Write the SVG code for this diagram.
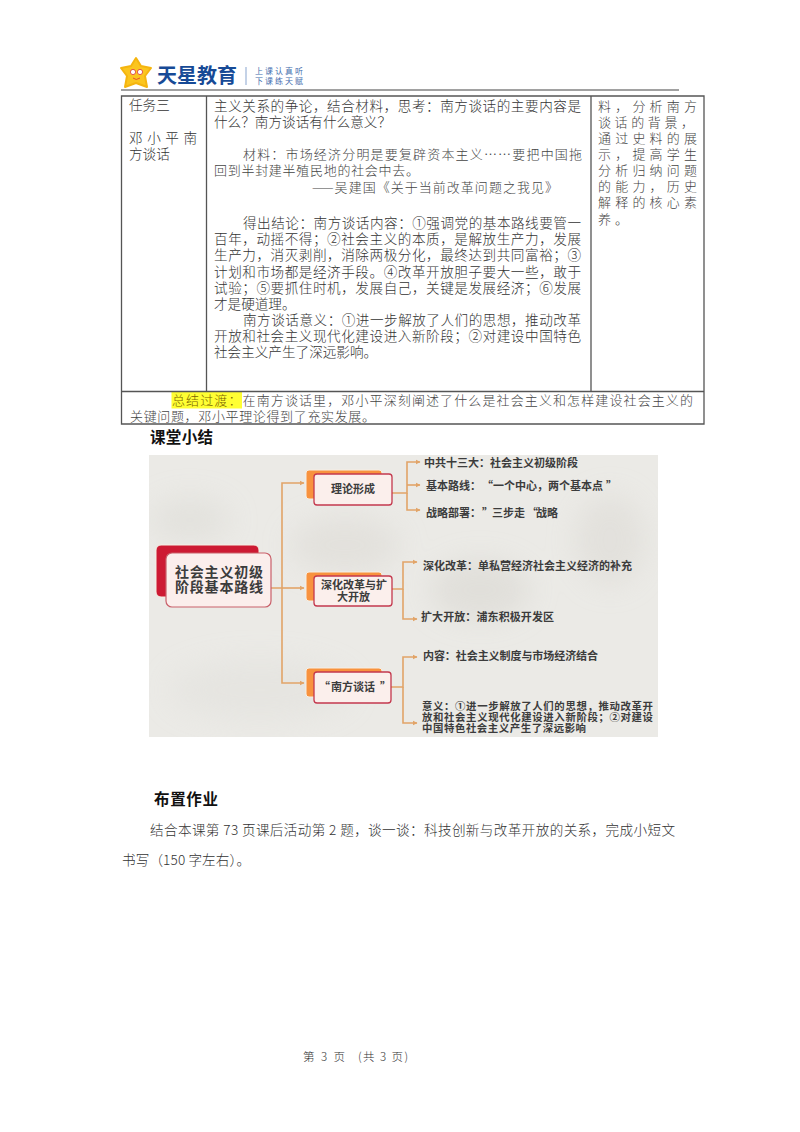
<svg xmlns="http://www.w3.org/2000/svg" width="800" height="1132" viewBox="0 0 800 1132">
<style>
text{font-family:"Noto Sans CJK SC","Noto Sans",sans-serif}
.b{font-size:13.6px;fill:#333;font-weight:300}
.k{font-size:13px;fill:#444;font-weight:300}
.h{font-size:15.5px;fill:#111;font-weight:700}
.m{font-size:11px;fill:#3c3c3c;font-weight:700}
.n{font-size:10.4px;fill:#3c3c3c;font-weight:700}
.t{stroke:#555;stroke-width:1.3;fill:none}
.c{stroke:#e2a468;stroke-width:1.6;fill:none}
.o{fill:#f8923e;stroke:#f6efe4;stroke-width:1}
.f{fill:#fbefec;stroke:#c4384d;stroke-width:1.3}
</style>
<defs>
<marker id="a" markerUnits="userSpaceOnUse" markerWidth="5" markerHeight="6" refX="4.500" refY="3" orient="auto"><path d="M0 0.5L5 3L0 5.500z" fill="#e2a468"/></marker>
<filter id="bl" x="-50%" y="-50%" width="200%" height="200%"><feGaussianBlur stdDeviation="14"/></filter>
<clipPath id="pic"><rect x="149" y="455" width="509" height="282"/></clipPath>
</defs>
<rect width="800" height="1132" fill="#fff"/>
<g id="logo">
<path d="M136 58L141 66L151 68L145 76L147 87L136 83L125 87L127 76L121 68L131 66z" fill="#fbc51e" stroke="#f5b50f" stroke-linejoin="round" stroke-width="2"/>
<circle cx="133" cy="72" r="2.600" fill="#fff" stroke="#d33" stroke-width="0.800"/><circle cx="140" cy="72" r="2.600" fill="#fff" stroke="#d33" stroke-width="0.800"/>
<path d="M133 78Q136 81 140 78" fill="none" stroke="#d33" stroke-width="0.800"/>
<text x="157" y="83" font-size="20" font-weight="700" fill="#174a96" textLength="80" lengthAdjust="spacingAndGlyphs">天星教育</text>
<rect x="245.500" y="67" width="1" height="18" fill="#8aa6cf"/>
<text x="255" y="74" font-size="8" fill="#3f6cae" textLength="48">上课认真听</text>
<text x="255" y="84" font-size="8" fill="#3f6cae" textLength="48">下课练天赋</text>
<path d="M121 90H679" stroke="#444" stroke-width="1.200"/>
</g>
<g id="table">
<rect x="171.500" y="392" width="70.500" height="16.500" fill="#ffff33"/>
<path class="t" d="M121.500 96H704V424H121.500zM206.500 96V391M591 96V391M121.500 391.500H704"/>
<text class="b" x="129" y="110">任务三</text>
<text class="b" x="129" y="143" textLength="68">邓小平南</text>
<text class="b" x="129" y="159">方谈话</text>
<text class="b" x="214" y="111" textLength="367">主义关系的争论，结合材料，思考：南方谈话的主要内容是</text>
<text class="b" x="214" y="127" textLength="177">什么？南方谈话有什么意义？</text>
<text class="k" x="243" y="159" textLength="339">材料：市场经济分明是要复辟资本主义……要把中国拖</text>
<text class="k" x="214" y="175" textLength="205">回到半封建半殖民地的社会中去。</text>
<text class="k" x="312" y="192" textLength="246">——吴建国《关于当前改革问题之我见》</text>
<text class="b" x="243" y="228" textLength="338">得出结论：南方谈话内容：①强调党的基本路线要管一</text>
<text class="b" x="214" y="244" textLength="367">百年，动摇不得；②社会主义的本质，是解放生产力，发展</text>
<text class="b" x="214" y="260" textLength="367">生产力，消灭剥削，消除两极分化，最终达到共同富裕；③</text>
<text class="b" x="214" y="277" textLength="367">计划和市场都是经济手段。④改革开放胆子要大一些，敢于</text>
<text class="b" x="214" y="293" textLength="367">试验；⑤要抓住时机，发展自己，关键是发展经济；⑥发展</text>
<text class="b" x="214" y="309">才是硬道理。</text>
<text class="b" x="243" y="325" textLength="338">南方谈话意义：①进一步解放了人们的思想，推动改革</text>
<text class="b" x="214" y="341" textLength="367">开放和社会主义现代化建设进入新阶段；②对建设中国特色</text>
<text class="b" x="214" y="357">社会主义产生了深远影响。</text>
<text class="k" x="598" y="111" textLength="99">料，分析南方</text>
<text class="k" x="598" y="127" textLength="96">谈话的背景，</text>
<text class="k" x="598" y="143" textLength="99">通过史料的展</text>
<text class="k" x="598" y="159" textLength="99">示，提高学生</text>
<text class="k" x="598" y="175" textLength="99">分析归纳问题</text>
<text class="k" x="598" y="191" textLength="99">的能力，历史</text>
<text class="k" x="598" y="207" textLength="99">解释的核心素</text>
<text class="k" x="598" y="224" textLength="30">养。</text>
<text class="k" x="172" y="405" textLength="521"><tspan fill="#7a6400">总结过渡：</tspan>在南方谈话里，邓小平深刻阐述了什么是社会主义和怎样建设社会主义的</text>
<text class="k" x="130" y="421" textLength="245">关键问题，邓小平理论得到了充实发展。</text>
</g>
<text class="h" x="150" y="443" textLength="63">课堂小结</text>
<g id="picture-bg" clip-path="url(#pic)">
<rect x="149" y="455" width="509" height="282" fill="#ebeae6"/>
<g filter="url(#bl)" opacity=".75">
<ellipse cx="190" cy="520" rx="40" ry="22" fill="#e0dfda"/>
<ellipse cx="345" cy="545" rx="55" ry="28" fill="#e0ded9"/>
<ellipse cx="480" cy="590" rx="50" ry="30" fill="#dddbd6"/>
<ellipse cx="610" cy="540" rx="35" ry="45" fill="#e0ded9"/>
<ellipse cx="260" cy="690" rx="90" ry="30" fill="#e4e3df"/>
</g>
</g>
<g id="connectors">
<path class="c" marker-end="url(#a)" d="M271 588H282V483H304"/>
<path class="c" marker-end="url(#a)" d="M282 588H304"/>
<path class="c" marker-end="url(#a)" d="M282 588V683H304"/>
<path class="c" marker-end="url(#a)" d="M392 493H407V462H420"/>
<path class="c" marker-end="url(#a)" d="M407 485H420"/>
<path class="c" marker-end="url(#a)" d="M407 493V510H420"/>
<path class="c" marker-end="url(#a)" d="M392 589H403V562H417"/>
<path class="c" marker-end="url(#a)" d="M403 589V619H417"/>
<path class="c" marker-end="url(#a)" d="M391 687H403V657H417"/>
<path class="c" marker-end="url(#a)" d="M403 687V723H417"/>
</g>
<g id="root">
<rect x="156" y="545" width="103" height="52" rx="5" fill="#cd1a33" stroke="#f6efe4"/>
<rect x="166" y="553" width="105" height="54" rx="6" fill="#fbeeec" stroke="#c9606a" stroke-width="1.200"/>
<text x="175" y="577" font-size="14" font-weight="700" fill="#3c3c3c" textLength="88">社会主义初级</text>
<text x="175" y="592" font-size="14" font-weight="700" fill="#3c3c3c" textLength="88">阶段基本路线</text>
</g>
<g id="n1">
<rect class="o" x="306" y="470" width="76" height="29" rx="3"/><rect class="f" x="314" y="474" width="78" height="31" rx="3"/>
<text class="m" x="331" y="493" textLength="44">理论形成</text>
</g>
<g id="n2">
<rect class="o" x="306" y="572" width="76" height="29" rx="3"/><rect class="f" x="314" y="576" width="78" height="30" rx="3"/>
<text class="m" x="321" y="589" textLength="66">深化改革与扩</text>
<text class="m" x="337" y="600.500" textLength="33">大开放</text>
</g>
<g id="n3">
<rect class="o" x="306" y="668" width="76" height="29" rx="3"/><rect class="f" x="314" y="672" width="77" height="31" rx="3"/>
<text class="m" y="691"><tspan x="319">“</tspan><tspan x="331">南方谈话</tspan><tspan x="380">”</tspan></text>
</g>
<g id="leaves">
<text class="m" x="424" y="467" textLength="154">中共十三大：社会主义初级阶段</text>
<text class="m" y="490"><tspan x="426">基本路线：</tspan><tspan x="482">“</tspan><tspan x="493">一个中心，两个基本点</tspan><tspan x="606">”</tspan></text>
<text class="m" y="517"><tspan x="426">战略部署：</tspan><tspan x="482">”</tspan><tspan x="492">三步走</tspan><tspan x="527">“</tspan><tspan x="536">战略</tspan></text>
<text class="m" x="423" y="570" textLength="209">深化改革：单私营经济社会主义经济的补充</text>
<text class="m" x="421" y="621" textLength="133">扩大开放：浦东积极开发区</text>
<text class="m" x="423" y="660" textLength="175">内容：社会主义制度与市场经济结合</text>
<text class="n" x="422" y="710" textLength="231">意义：①进一步解放了人们的思想，推动改革开</text>
<text class="n" x="422" y="721" textLength="231">放和社会主义现代化建设进入新阶段；②对建设</text>
<text class="n" x="422" y="732" textLength="164">中国特色社会主义产生了深远影响</text>
</g>
<text class="h" x="154" y="805" textLength="64">布置作业</text>
<text class="b" x="150" y="835" textLength="525">结合本课第 73 页课后活动第 2 题，谈一谈：科技创新与改革开放的关系，完成小短文</text>
<text class="b" x="122" y="865" textLength="128">书写（150 字左右）。</text>
<g id="footer" font-size="11.500" fill="#333" font-weight="300">
<text x="303" y="1061" textLength="42">第 3 页</text>
<text x="358" y="1061" textLength="50">(共 3 页)</text>
</g>
</svg>
